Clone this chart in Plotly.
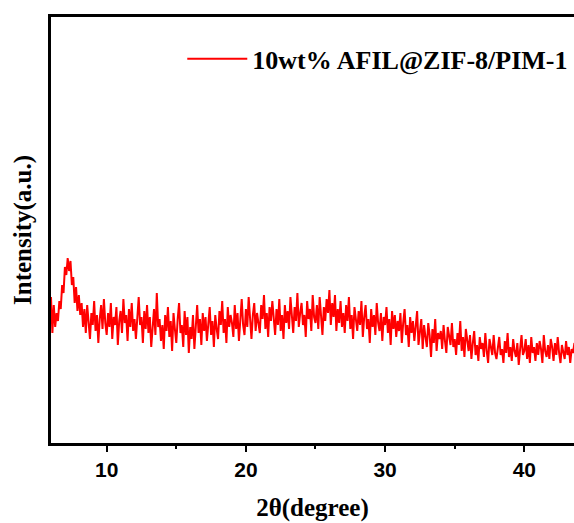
import numpy as np
import plotly.graph_objects as go

# 2theta sampling grid (degrees)
theta_start = 6.0
theta_step = 0.1

# Intensity (a.u.), 10 samples per degree
intensity = [
    146, 110, 138, 116, 130, 122, 142, 134, 158, 150,   # 6
    176, 168, 185, 172, 182, 158, 166, 140, 156, 132,   # 7
    148, 128, 140, 116, 134, 110, 138, 122, 104, 130,   # 8
    118, 142, 112, 128, 100, 124, 138, 114, 144, 120,   # 9
    108, 130, 116, 140, 104, 126, 118, 136, 98, 122,    # 10
    132, 110, 144, 120, 128, 102, 134, 116, 140, 112,   # 11
    124, 104, 130, 146, 118, 126, 100, 132, 114, 138,   # 12
    110, 126, 96, 120, 134, 108, 150, 116, 124, 102,    # 13
    118, 94, 128, 112, 136, 106, 122, 92, 130, 114,     # 14
    100, 124, 140, 110, 118, 96, 132, 108, 126, 90,     # 15
    116, 104, 128, 94, 120, 138, 110, 124, 98, 130,     # 16
    112, 126, 102, 118, 136, 108, 122, 96, 128, 114,    # 17
    104, 132, 118, 142, 110, 124, 100, 136, 116, 128,   # 18
    120, 106, 138, 114, 130, 102, 126, 144, 118, 108,   # 19
    134, 116, 146, 122, 104, 128, 140, 112, 130, 120,   # 20
    110, 138, 124, 148, 114, 130, 106, 136, 122, 142,   # 21
    126, 108, 134, 118, 144, 112, 128, 104, 138, 120,   # 22
    132, 114, 146, 124, 110, 136, 122, 150, 116, 130,   # 23
    140, 118, 128, 106, 142, 124, 134, 112, 148, 126,   # 24
    120, 138, 114, 146, 128, 108, 136, 122, 144, 130,   # 25
    153, 118, 140, 126, 148, 112, 134, 120, 142, 116,   # 26
    130, 110, 138, 122, 146, 114, 128, 104, 136, 120,   # 27
    112, 132, 118, 142, 106, 126, 138, 114, 124, 100,   # 28
    134, 116, 128, 108, 140, 120, 112, 130, 102, 126,   # 29
    118, 136, 110, 124, 98, 132, 114, 128, 106, 122,    # 30
    112, 130, 100, 120, 134, 108, 118, 96, 126, 110,    # 31
    122, 102, 116, 132, 98, 112, 124, 94, 118, 106,     # 32
    96, 120, 108, 86, 114, 100, 124, 92, 110, 104,      # 33
    112, 94, 118, 102, 90, 116, 106, 98, 120, 96,       # 34
    104, 88, 110, 98, 122, 92, 106, 86, 114, 100,       # 35
    92, 108, 84, 100, 112, 88, 98, 82, 106, 94,         # 36
    100, 86, 110, 92, 80, 104, 96, 88, 108, 90,         # 37
    84, 98, 106, 88, 94, 80, 102, 90, 110, 86,          # 38
    96, 82, 104, 92, 86, 100, 78, 94, 108, 88,          # 39
    92, 104, 84, 98, 80, 106, 90, 96, 82, 100,          # 40
    88, 102, 94, 80, 108, 92, 86, 98, 84, 104,          # 41
    96, 82, 100, 88, 106, 90, 80, 98, 92, 84,           # 42
    102, 88, 96, 80, 94, 90, 100,                       # 43
]
two_theta = np.round(theta_start + theta_step * np.arange(len(intensity)), 2)

series_name = "10wt% AFIL@ZIF-8/PIM-1"
x_ticks = [10, 20, 30, 40]
x_title = "2θ(degree)"
y_title = "Intensity(a.u.)"

serif = "Liberation Serif, Times New Roman, serif"
sans = "Liberation Sans, Arial, sans-serif"

fig = go.Figure()
fig.add_trace(go.Scatter(
    x=two_theta, y=intensity, mode="lines", name=series_name,
    line=dict(color="#ff0000", width=2),
))

fig.update_layout(
    width=574, height=523,
    margin=dict(l=51, r=0, t=17, b=80, autoexpand=False),
    paper_bgcolor="white", plot_bgcolor="white",
    showlegend=True,
    legend=dict(
        x=0.251, y=0.957, xanchor="left", yanchor="top",
        font=dict(family=serif, size=26, color="black", weight="bold"),
        bgcolor="rgba(0,0,0,0)", itemwidth=60,
    ),
    xaxis=dict(
        range=[6.0, 43.57], tickvals=x_ticks, automargin=False,
        showline=True, linecolor="black", linewidth=2.5, mirror=True,
        ticks="outside", ticklen=6, tickwidth=2, tickcolor="black",
        minor=dict(dtick=5, ticks="outside", ticklen=3.5, tickwidth=2, tickcolor="black"),
        tickfont=dict(family=sans, size=21, color="black", weight="bold"),
        showgrid=False, zeroline=False,
        title=dict(text=x_title, font=dict(family=serif, size=25, color="black", weight="bold"), standoff=19),
    ),
    yaxis=dict(
        range=[0, 426], automargin=False,
        showline=True, linecolor="black", linewidth=3,
        showticklabels=False, ticks="",
        showgrid=False, zeroline=False,
        title=dict(text=y_title, font=dict(family=serif, size=25, color="black", weight="bold"), standoff=10),
    ),
)

fig.write_html(
    "out.html",
    config={"displayModeBar": False},
    post_script="document.body.style.margin='0';document.body.style.overflow='hidden';",
)
